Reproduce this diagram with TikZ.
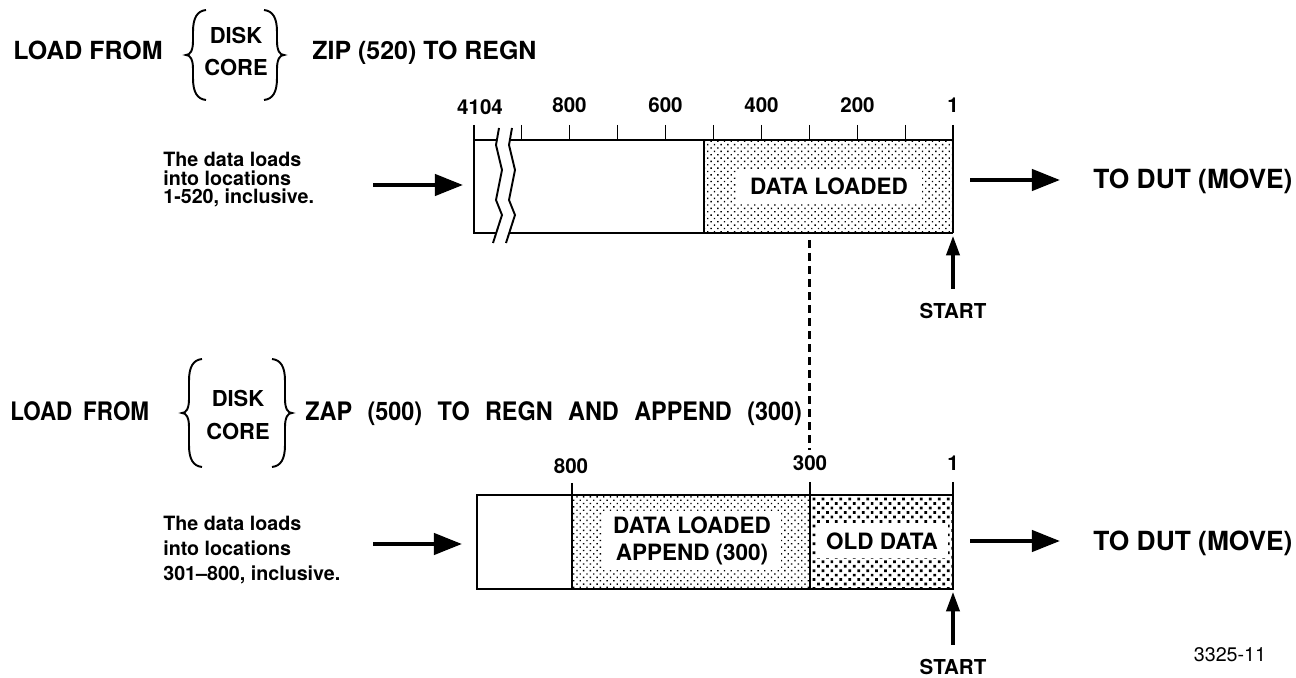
\documentclass[tikz,border=0pt]{standalone}
\usepackage{fontspec}
\setmainfont{TeX Gyre Heros}
\usetikzlibrary{arrows.meta, patterns.meta}

\begin{document}
\begin{tikzpicture}[x=0.02cm, y=-0.02cm,
    wall/.style={line width=1.1pt},
    fatarrow/.style={line width=2.4pt, -{Triangle[length=16pt, width=12pt]}},
    startarrow/.style={line width=1.8pt, -{Triangle[length=11pt, width=7.5pt]}},
    fewdots/.style={pattern={Dots[distance=2.7pt, radius=0.55pt, angle=45]}},
    manydots/.style={pattern={Dots[distance=3.6pt, radius=1.1pt, angle=45]}},
    headline/.style={font=\fontsize{14.2}{17}\selectfont\bfseries, anchor=base west, inner sep=0pt},
    slimline/.style={font={\fontsize{14.5}{17}\selectfont\bfseries}, anchor=base west, inner sep=0pt},
    choice/.style={font=\fontsize{12.5}{15}\selectfont\bfseries, inner sep=0pt},
    scalelabel/.style={font=\fontsize{11.7}{14}\selectfont\bfseries, inner sep=0pt},
    cellname/.style={font=\fontsize{12.8}{15}\selectfont\bfseries, fill=white, align=center, inner ysep=5pt},
    remark/.style={font=\fontsize{11.2}{10.6}\selectfont\bfseries, align=left, anchor=north west, inner sep=0pt},
    target/.style={font=\fontsize{15}{18}\selectfont\bfseries, anchor=base west, inner sep=0pt}
  ]

\useasboundingbox (0,0) rectangle (1296,678);

\def\xone{953}
\def\pxper{0.48}

\node[headline] (loadA) at (13,60) {LOAD FROM};
\node[choice] (diskA) at (236,36) {DISK};
\node[choice] (coreA) at (236,68) {CORE};
\node[headline] (zipA) at (312,60) {ZIP (520) TO REGN};

\node[slimline] (loadB) at (10,421) {\scalebox{0.88}[1]{LOAD\hspace{7pt}FROM}};
\node[choice] (diskB) at (238,398) {DISK};
\node[choice] (coreB) at (238,431) {CORE};
\node[slimline] (zapB) at (305,421) {\scalebox{0.92}[1]{\spaceskip=9.5pt\relax ZAP (500) TO REGN AND APPEND (300)}};

\foreach \bx/\s/\yt/\yb in {186/1/10/100, 284/-1/10/100, 182/1/359/467, 292/-1/359/467}{
  \pgfmathsetmacro{\ym}{(\yt+\yb)/2}
  \draw[line width=1.1pt] ({\bx+20*\s},\yt) .. controls ({\bx+11*\s},{\yt+1}) and ({\bx+7*\s},{\yt+8}) .. ({\bx+7*\s},{\yt+22}) -- ({\bx+7*\s},{\ym-14}) .. controls ({\bx+7*\s},{\ym-4}) and ({\bx+4*\s},\ym) .. (\bx,\ym) .. controls ({\bx+4*\s},\ym) and ({\bx+7*\s},{\ym+4}) .. ({\bx+7*\s},{\ym+14}) -- ({\bx+7*\s},{\yb-22}) .. controls ({\bx+7*\s},{\yb-8}) and ({\bx+11*\s},{\yb-1}) .. ({\bx+20*\s},\yb);
}

\fill[fewdots] (703.9,140) rectangle (\xone,233);
\draw[wall] (474,125) -- (474,233) -- (496.2,233);
\draw[wall] (474,140) -- (496.9,140);
\draw[wall] (509.9,140) -- (\xone,140);
\draw[wall] (509.2,233) -- (\xone,233);
\draw[wall] (\xone,125) -- (\xone,233);
\draw[wall] (703.9,140) -- (703.9,233);
\draw[wall] (499,128) -- (496,145) -- (502,170) -- (496,200) -- (502,215) -- (493,243);
\draw[wall] (512,128) -- (509,145) -- (515,170) -- (509,200) -- (515,215) -- (506,243);
\foreach \v in {100,200,...,900}
  \draw[wall] ({\xone-\pxper*(\v-1)},125) -- ({\xone-\pxper*(\v-1)},140);

\node[scalelabel] (t4104) at (480,107) {4104};
\foreach \v in {800,600,400,200,1}
  \node[scalelabel] (t\v) at ({\xone-\pxper*(\v-1)},105) {\v};

\node[cellname, inner xsep=8pt] (loadedA) at (829,186) {DATA LOADED};

\node[remark] (noteA) at (163,152) {The data loads\\into locations\\1-520, inclusive.};
\coordinate (inA) at (373,185);
\coordinate (inAend) at (463,185);
\draw[fatarrow] (inA) -- (inAend);

\coordinate (outA) at (970,180);
\coordinate (outAend) at (1060,180);
\node[target] (dutA) at (1093,189) {TO DUT (MOVE)};
\draw[fatarrow] (outA) -- (outAend);

\coordinate (firstA) at (\xone,236);
\node[scalelabel] (startA) at (\xone,311) {START};
\draw[startarrow, shorten <=8pt] (startA.north) -- (firstA);

\coordinate (guideTop) at (809.5,240);
\coordinate (guideBot) at (809.5,450);
\draw[line width=1.2pt, dash pattern=on 4.6pt off 2.8pt] (guideTop) -- (guideBot);

\fill[fewdots] (572,495) rectangle (810,589);
\fill[manydots] (810,495) rectangle (\xone,589);
\draw[wall] (477,495) rectangle (\xone,589);
\draw[wall] (572,483) -- (572,589);
\draw[wall] (810,482) -- (810,589);
\draw[wall] (\xone,482) -- (\xone,495);

\node[scalelabel] (b800) at (571,466) {800};
\node[scalelabel] (b300) at (810,463) {300};
\node[scalelabel] (b1) at (\xone,463) {1};

\node[cellname, inner xsep=6pt, inner ysep=3pt] (loadedB) at (692,541) {DATA LOADED\\APPEND (300)};
\node[cellname, inner xsep=6pt] (oldB) at (882,541) {OLD DATA};

\node[remark, font=\fontsize{11.2}{14.2}\selectfont\bfseries] (noteB) at (163,516) {The data loads\\into locations\\301--800, inclusive.};
\coordinate (inB) at (373,544);
\coordinate (inBend) at (462,544);
\draw[fatarrow] (inB) -- (inBend);

\coordinate (outB) at (970,541);
\coordinate (outBend) at (1060,541);
\node[target] (dutB) at (1093,551) {TO DUT (MOVE)};
\draw[fatarrow] (outB) -- (outBend);

\coordinate (firstB) at (\xone,592);
\node[scalelabel] (startB) at (\xone,667) {START};
\draw[startarrow, shorten <=8pt] (startB.north) -- (firstB);

\node[font=\fontsize{11.2}{13}\selectfont, inner sep=0pt] (figno) at (1230,655) {3325-11};

\end{tikzpicture}
\end{document}
